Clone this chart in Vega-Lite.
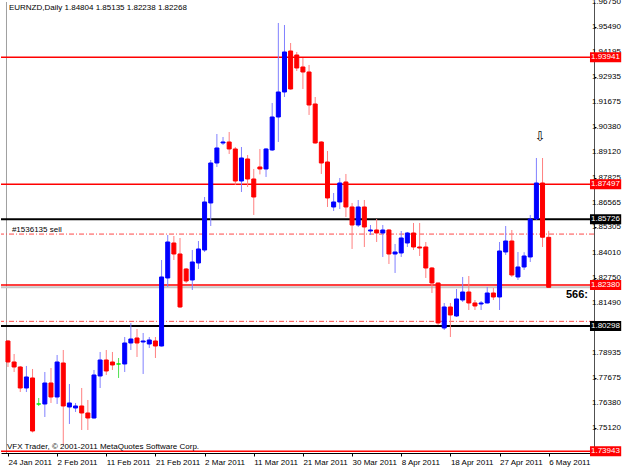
{
  "$schema": "https://vega.github.io/schema/vega-lite/v6.json",
  "width": 593,
  "height": 451,
  "autosize": "none",
  "padding": {"left": 1, "top": 2, "right": 31, "bottom": 16},
  "background": "white",
  "view": {"stroke": null},
  "config": {"font": "Liberation Sans", "axis": {"labelOverlap": false, "labelFlush": false, "grid": false, "title": null}},
  "datasets": {
    "candles": [
      {"i":0,"d":"24 Jan 2011","o":1.79543,"h":1.79594,"l":1.78223,"c":1.78477},
      {"i":1,"d":"25 Jan 2011","o":1.78477,"h":1.78883,"l":1.77969,"c":1.78223},
      {"i":2,"d":"26 Jan 2011","o":1.78223,"h":1.78274,"l":1.76954,"c":1.77157},
      {"i":3,"d":"27 Jan 2011","o":1.77157,"h":1.78274,"l":1.76954,"c":1.77716},
      {"i":4,"d":"28 Jan 2011","o":1.77665,"h":1.78122,"l":1.74900,"c":1.74974},
      {"i":5,"d":"30 Jan 2011","o":1.76345,"h":1.76650,"l":1.76244,"c":1.76345},
      {"i":6,"d":"31 Jan 2011","o":1.76345,"h":1.77969,"l":1.75685,"c":1.77411},
      {"i":7,"d":"1 Feb 2011","o":1.77411,"h":1.78172,"l":1.76396,"c":1.76700},
      {"i":8,"d":"2 Feb 2011","o":1.76700,"h":1.78832,"l":1.76345,"c":1.78477},
      {"i":9,"d":"3 Feb 2011","o":1.78426,"h":1.79086,"l":1.74264,"c":1.76244},
      {"i":10,"d":"4 Feb 2011","o":1.76193,"h":1.77360,"l":1.75330,"c":1.76396},
      {"i":11,"d":"6 Feb 2011","o":1.76142,"h":1.76396,"l":1.75939,"c":1.76244},
      {"i":12,"d":"7 Feb 2011","o":1.76244,"h":1.77157,"l":1.75025,"c":1.75888},
      {"i":13,"d":"8 Feb 2011","o":1.75888,"h":1.76548,"l":1.75025,"c":1.75634},
      {"i":14,"d":"9 Feb 2011","o":1.75634,"h":1.78071,"l":1.75600,"c":1.77817},
      {"i":15,"d":"10 Feb 2011","o":1.77767,"h":1.78985,"l":1.77157,"c":1.78578},
      {"i":16,"d":"11 Feb 2011","o":1.78578,"h":1.79086,"l":1.77817,"c":1.78020},
      {"i":17,"d":"13 Feb 2011","o":1.78477,"h":1.78985,"l":1.78071,"c":1.78325},
      {"i":18,"d":"14 Feb 2011","o":1.78376,"h":1.78680,"l":1.77665,"c":1.78376},
      {"i":19,"d":"15 Feb 2011","o":1.78376,"h":1.79746,"l":1.77969,"c":1.79441},
      {"i":20,"d":"16 Feb 2011","o":1.79441,"h":1.80457,"l":1.79086,"c":1.79644},
      {"i":21,"d":"17 Feb 2011","o":1.79695,"h":1.80152,"l":1.78731,"c":1.79441},
      {"i":22,"d":"18 Feb 2011","o":1.79492,"h":1.79949,"l":1.77868,"c":1.79543},
      {"i":23,"d":"20 Feb 2011","o":1.79391,"h":1.79746,"l":1.79188,"c":1.79594},
      {"i":24,"d":"21 Feb 2011","o":1.79543,"h":1.79746,"l":1.78680,"c":1.79289},
      {"i":25,"d":"22 Feb 2011","o":1.79289,"h":1.83654,"l":1.79260,"c":1.82792},
      {"i":26,"d":"23 Feb 2011","o":1.82741,"h":1.84923,"l":1.82284,"c":1.84568},
      {"i":27,"d":"24 Feb 2011","o":1.84517,"h":1.84873,"l":1.83654,"c":1.83959},
      {"i":28,"d":"25 Feb 2011","o":1.83959,"h":1.84771,"l":1.81218,"c":1.81269},
      {"i":29,"d":"27 Feb 2011","o":1.83198,"h":1.83248,"l":1.82487,"c":1.82588},
      {"i":30,"d":"28 Feb 2011","o":1.82639,"h":1.84162,"l":1.82132,"c":1.83553},
      {"i":31,"d":"1 Mar 2011","o":1.83502,"h":1.84619,"l":1.83198,"c":1.84213},
      {"i":32,"d":"2 Mar 2011","o":1.84162,"h":1.86852,"l":1.84060,"c":1.86599},
      {"i":33,"d":"3 Mar 2011","o":1.86548,"h":1.88730,"l":1.85380,"c":1.88578},
      {"i":34,"d":"4 Mar 2011","o":1.88578,"h":1.90050,"l":1.88375,"c":1.89340},
      {"i":35,"d":"6 Mar 2011","o":1.89593,"h":1.89898,"l":1.89492,"c":1.89644},
      {"i":36,"d":"7 Mar 2011","o":1.89644,"h":1.90152,"l":1.89035,"c":1.89289},
      {"i":37,"d":"8 Mar 2011","o":1.89289,"h":1.89390,"l":1.87461,"c":1.87664},
      {"i":38,"d":"9 Mar 2011","o":1.87664,"h":1.89390,"l":1.87106,"c":1.88832},
      {"i":39,"d":"10 Mar 2011","o":1.88781,"h":1.88984,"l":1.87360,"c":1.87766},
      {"i":40,"d":"11 Mar 2011","o":1.87766,"h":1.88274,"l":1.85939,"c":1.86852},
      {"i":41,"d":"13 Mar 2011","o":1.88375,"h":1.89289,"l":1.88000,"c":1.88274},
      {"i":42,"d":"14 Mar 2011","o":1.88274,"h":1.89339,"l":1.87868,"c":1.89289},
      {"i":43,"d":"15 Mar 2011","o":1.89238,"h":1.91624,"l":1.89187,"c":1.90913},
      {"i":44,"d":"16 Mar 2011","o":1.90913,"h":1.95685,"l":1.89644,"c":1.92182},
      {"i":45,"d":"17 Mar 2011","o":1.92182,"h":1.95583,"l":1.91928,"c":1.94213},
      {"i":46,"d":"18 Mar 2011","o":1.94263,"h":1.94669,"l":1.92300,"c":1.92334},
      {"i":47,"d":"20 Mar 2011","o":1.94060,"h":1.94213,"l":1.93248,"c":1.93400},
      {"i":48,"d":"21 Mar 2011","o":1.93451,"h":1.93908,"l":1.92334,"c":1.93197},
      {"i":49,"d":"22 Mar 2011","o":1.93197,"h":1.93553,"l":1.91015,"c":1.91522},
      {"i":50,"d":"23 Mar 2011","o":1.91573,"h":1.91928,"l":1.89560,"c":1.89593},
      {"i":51,"d":"24 Mar 2011","o":1.89644,"h":1.89680,"l":1.88020,"c":1.88578},
      {"i":52,"d":"25 Mar 2011","o":1.88629,"h":1.89187,"l":1.86345,"c":1.86802},
      {"i":53,"d":"27 Mar 2011","o":1.86345,"h":1.87055,"l":1.86142,"c":1.86599},
      {"i":54,"d":"28 Mar 2011","o":1.86599,"h":1.87817,"l":1.86243,"c":1.87563},
      {"i":55,"d":"29 Mar 2011","o":1.87614,"h":1.88020,"l":1.85837,"c":1.86345},
      {"i":56,"d":"30 Mar 2011","o":1.86345,"h":1.86548,"l":1.84213,"c":1.85431},
      {"i":57,"d":"31 Mar 2011","o":1.85431,"h":1.86700,"l":1.85329,"c":1.86345},
      {"i":58,"d":"1 Apr 2011","o":1.86345,"h":1.86700,"l":1.84314,"c":1.85329},
      {"i":59,"d":"3 Apr 2011","o":1.85126,"h":1.85431,"l":1.84923,"c":1.85177},
      {"i":60,"d":"4 Apr 2011","o":1.85177,"h":1.85736,"l":1.84568,"c":1.85025},
      {"i":61,"d":"5 Apr 2011","o":1.85025,"h":1.85431,"l":1.83807,"c":1.85177},
      {"i":62,"d":"6 Apr 2011","o":1.85177,"h":1.85228,"l":1.83451,"c":1.83959},
      {"i":63,"d":"7 Apr 2011","o":1.83959,"h":1.84467,"l":1.82995,"c":1.84060},
      {"i":64,"d":"8 Apr 2011","o":1.84010,"h":1.85126,"l":1.83807,"c":1.84771},
      {"i":65,"d":"10 Apr 2011","o":1.84517,"h":1.85076,"l":1.84314,"c":1.85025},
      {"i":66,"d":"11 Apr 2011","o":1.85025,"h":1.85533,"l":1.84162,"c":1.84314},
      {"i":67,"d":"12 Apr 2011","o":1.84314,"h":1.85533,"l":1.83857,"c":1.84263},
      {"i":68,"d":"13 Apr 2011","o":1.84314,"h":1.84568,"l":1.82741,"c":1.83248},
      {"i":69,"d":"14 Apr 2011","o":1.83248,"h":1.83299,"l":1.81979,"c":1.82487},
      {"i":70,"d":"15 Apr 2011","o":1.82487,"h":1.82500,"l":1.80355,"c":1.80457},
      {"i":71,"d":"17 Apr 2011","o":1.80203,"h":1.81472,"l":1.80101,"c":1.81269},
      {"i":72,"d":"18 Apr 2011","o":1.81269,"h":1.81472,"l":1.79746,"c":1.80863},
      {"i":73,"d":"19 Apr 2011","o":1.80812,"h":1.82182,"l":1.80761,"c":1.81675},
      {"i":74,"d":"20 Apr 2011","o":1.81624,"h":1.82792,"l":1.81523,"c":1.82030},
      {"i":75,"d":"21 Apr 2011","o":1.82030,"h":1.82842,"l":1.81116,"c":1.81472},
      {"i":76,"d":"22 Apr 2011","o":1.81472,"h":1.81624,"l":1.81116,"c":1.81320},
      {"i":77,"d":"24 Apr 2011","o":1.81421,"h":1.81573,"l":1.81116,"c":1.81472},
      {"i":78,"d":"25 Apr 2011","o":1.81472,"h":1.82284,"l":1.81450,"c":1.81979},
      {"i":79,"d":"26 Apr 2011","o":1.81979,"h":1.82233,"l":1.81624,"c":1.81776},
      {"i":80,"d":"27 Apr 2011","o":1.81776,"h":1.84568,"l":1.81116,"c":1.84111},
      {"i":81,"d":"28 Apr 2011","o":1.84060,"h":1.85380,"l":1.83909,"c":1.84619},
      {"i":82,"d":"29 Apr 2011","o":1.84619,"h":1.85177,"l":1.82792,"c":1.82893},
      {"i":83,"d":"1 May 2011","o":1.82792,"h":1.84060,"l":1.82639,"c":1.83299},
      {"i":84,"d":"2 May 2011","o":1.83299,"h":1.84050,"l":1.83147,"c":1.83857},
      {"i":85,"d":"3 May 2011","o":1.83807,"h":1.85939,"l":1.83553,"c":1.85736},
      {"i":86,"d":"4 May 2011","o":1.85736,"h":1.88832,"l":1.85685,"c":1.87563},
      {"i":87,"d":"5 May 2011","o":1.87563,"h":1.88832,"l":1.84314,"c":1.84810},
      {"i":88,"d":"6 May 2011","o":1.84804,"h":1.85135,"l":1.82238,"c":1.82268}
    ],
    "levels": [
      {"p":1.93941,"kind":"red"},
      {"p":1.87497,"kind":"red"},
      {"p":1.85726,"kind":"black"},
      {"p":1.8497,"kind":"order"},
      {"p":1.8238,"kind":"red"},
      {"p":1.82268,"kind":"bid"},
      {"p":1.8054,"kind":"order"},
      {"p":1.80298,"kind":"black"},
      {"p":1.73943,"kind":"red"}
    ],
    "yticks": [
      {"p":1.9675},{"p":1.9549},{"p":1.94195},{"p":1.92935},{"p":1.91675},{"p":1.9038},
      {"p":1.8912},{"p":1.87825},{"p":1.86565},{"p":1.85305},{"p":1.8401},{"p":1.8275},
      {"p":1.8149},{"p":1.8023},{"p":1.78935},{"p":1.77675},{"p":1.7638},{"p":1.7512}
    ]
  },
  "layer": [
    {
      "data": {"name": "candles"},
      "mark": {"type": "rule", "strokeWidth": 1, "opacity": 0},
      "encoding": {
        "x": {"field": "i", "type": "quantitative", "title": null,
          "scale": {"domain": [-0.32, 94.56], "nice": false, "zero": false},
          "axis": {"values": [0, 8, 16, 24, 32, 40, 48, 56, 64, 72, 80, 88],
            "labelExpr": "['24 Jan 2011','2 Feb 2011','11 Feb 2011','21 Feb 2011','2 Mar 2011','11 Mar 2011','21 Mar 2011','30 Mar 2011','8 Apr 2011','18 Apr 2011','27 Apr 2011','6 May 2011'][round(datum.value/8)]",
            "labelAlign": "left", "labelAngle": 0, "labelDx": -1, "labelFontSize": 8, "labelColor": "#000000",
            "tickSize": 3, "tickColor": "#000000", "domainColor": "#000000", "labelPadding": 2,
            "labelOverlap": false, "labelFlush": false, "grid": false, "title": null}},
        "y": {"field": "l", "type": "quantitative", "title": null,
          "scale": {"domain": [1.73857, 1.9675], "nice": false, "zero": false},
          "axis": {"orient": "right",
            "values": [1.9675, 1.9549, 1.94195, 1.92935, 1.91675, 1.9038, 1.8912, 1.87825, 1.86565, 1.85305, 1.8401, 1.8275, 1.8149, 1.8023, 1.78935, 1.77675, 1.7638, 1.7512],
            "labels": false, "tickSize": 2, "tickColor": "#000000",
            "domainColor": "#505050", "grid": false, "title": null}},
        "y2": {"field": "h"}
      }
    },
    {
      "data": {"values": [{"label": ""}]},
      "mark": {"type": "rule", "color": "#a0a0a0", "strokeWidth": 1},
      "encoding": {
        "x": {"datum": -0.24, "type": "quantitative", "title": null}
      }
    },
    {
      "data": {"name": "levels"},
      "transform": [{"filter": "datum.kind == 'bid'"}],
      "mark": {"type": "rule", "color": "#c8c8c8", "strokeWidth": 2},
      "encoding": {"y": {"field": "p", "type": "quantitative", "title": null}}
    },
    {
      "data": {"name": "levels"},
      "transform": [{"filter": "datum.kind == 'order'"}],
      "mark": {"type": "rule", "color": "#ff4848", "strokeWidth": 1, "strokeDash": [5, 2, 1, 2]},
      "encoding": {"y": {"field": "p", "type": "quantitative", "title": null}}
    },
    {
      "data": {"name": "levels"},
      "transform": [{"filter": "datum.kind == 'black'"}],
      "mark": {"type": "rule", "color": "#000000", "strokeWidth": 2},
      "encoding": {"y": {"field": "p", "type": "quantitative", "title": null}}
    },
    {
      "data": {"name": "levels"},
      "transform": [{"filter": "datum.kind == 'red'"}],
      "mark": {"type": "rule", "color": "#ff0000", "strokeWidth": 1.5},
      "encoding": {"y": {"field": "p", "type": "quantitative", "title": null}}
    },
    {
      "data": {"name": "candles"},
      "mark": {"type": "rule", "strokeWidth": 1},
      "encoding": {
        "x": {"field": "i", "type": "quantitative", "title": null},
        "y": {"field": "l", "type": "quantitative", "title": null},
        "y2": {"field": "h"},
        "stroke": {"condition": [
          {"test": "datum.c == datum.o", "value": "#50e050"},
          {"test": "datum.c > datum.o", "value": "#8080ff"}], "value": "#ff8080"}
      }
    },
    {
      "data": {"name": "candles"},
      "mark": {"type": "bar", "width": 4, "strokeWidth": 1},
      "encoding": {
        "x": {"field": "i", "type": "quantitative", "title": null},
        "y": {"field": "o", "type": "quantitative", "title": null},
        "y2": {"field": "c"},
        "fill": {"condition": [
          {"test": "datum.c == datum.o", "value": "#00ee00"},
          {"test": "datum.c > datum.o", "value": "#0000ff"}], "value": "#ff0000"},
        "stroke": {"condition": [
          {"test": "datum.c == datum.o", "value": "#00ee00"},
          {"test": "datum.c > datum.o", "value": "#0000ff"}], "value": "#ff0000"}
      }
    },
    {
      "data": {"name": "yticks"},
      "mark": {"type": "text", "align": "left", "baseline": "middle", "fontSize": 8, "color": "#000000"},
      "encoding": {
        "x": {"datum": 95.04, "type": "quantitative", "title": null},
        "y": {"field": "p", "type": "quantitative", "title": null},
        "text": {"field": "p", "type": "quantitative", "format": ".5f"}
      }
    },
    {
      "data": {"name": "levels"},
      "transform": [{"filter": "datum.kind == 'red' || datum.kind == 'black'"}],
      "mark": {"type": "rule", "strokeWidth": 10, "strokeCap": "butt"},
      "encoding": {
        "x": {"datum": 94.72, "type": "quantitative", "title": null},
        "x2": {"datum": 99.8},
        "y": {"field": "p", "type": "quantitative", "title": null},
        "stroke": {"condition": {"test": "datum.kind == 'black'", "value": "#000000"}, "value": "#ff0000"}
      }
    },
    {
      "data": {"name": "levels"},
      "transform": [{"filter": "datum.kind == 'red' || datum.kind == 'black'"}],
      "mark": {"type": "text", "align": "left", "baseline": "middle", "fontSize": 8, "color": "#ffffff"},
      "encoding": {
        "x": {"datum": 94.88, "type": "quantitative", "title": null},
        "y": {"field": "p", "type": "quantitative", "title": null},
        "text": {"field": "p", "type": "quantitative", "format": ".5f"}
      }
    },
    {
      "data": {"values": [{"label": "EURNZD,Daily  1.84804 1.85135 1.82238 1.82268"}]},
      "mark": {"type": "text", "align": "left", "baseline": "middle", "fontSize": 8, "color": "#000000"},
      "encoding": {
        "x": {"datum": 0.16, "type": "quantitative", "title": null},
        "y": {"datum": 1.96446, "type": "quantitative", "title": null},
        "text": {"field": "label"}
      }
    },
    {
      "data": {"values": [{"label": "VFX Trader, © 2001-2011 MetaQuotes Software Corp."}]},
      "mark": {"type": "text", "align": "left", "baseline": "middle", "fontSize": 8, "color": "#000000"},
      "encoding": {
        "x": {"datum": -0.16, "type": "quantitative", "title": null},
        "y": {"datum": 1.74162, "type": "quantitative", "title": null},
        "text": {"field": "label"}
      }
    },
    {
      "data": {"values": [{"label": "#1536135 sell"}]},
      "mark": {"type": "text", "align": "left", "baseline": "middle", "fontSize": 8, "color": "#000000"},
      "encoding": {
        "x": {"datum": 0.64, "type": "quantitative", "title": null},
        "y": {"datum": 1.85177, "type": "quantitative", "title": null},
        "text": {"field": "label"}
      }
    },
    {
      "data": {"values": [{"label": "566:"}]},
      "mark": {"type": "text", "align": "right", "baseline": "middle", "fontSize": 11, "fontWeight": "bold", "font": "Liberation Sans", "color": "#000000"},
      "encoding": {
        "x": {"datum": 94.4, "type": "quantitative", "title": null},
        "y": {"datum": 1.81877, "type": "quantitative", "title": null},
        "text": {"field": "label"}
      }
    },
    {
      "data": {"values": [{"label": "⇩"}]},
      "mark": {"type": "text", "align": "center", "baseline": "middle", "fontSize": 13, "font": "DejaVu Sans", "color": "#000000"},
      "encoding": {
        "x": {"datum": 86.56, "type": "quantitative", "title": null},
        "y": {"datum": 1.89897, "type": "quantitative", "title": null},
        "text": {"field": "label"}
      }
    }
  ]
}
